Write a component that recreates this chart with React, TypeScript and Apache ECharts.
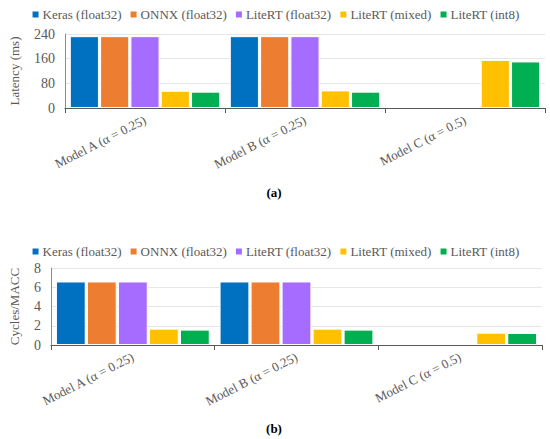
import React, { useEffect, useRef } from "react";
import * as echarts from "echarts";

const categories = ["Model A (α = 0.25)", "Model B (α = 0.25)", "Model C (α = 0.5)"];
const seriesNames = ["Keras (float32)", "ONNX (float32)", "LiteRT (float32)", "LiteRT (mixed)", "LiteRT (int8)"];
const colors = ["#0070C0", "#ED7D31", "#A66BFF", "#FFC000", "#00B050"];

const latency: (number | null)[][] = [
  [233, 233, null],
  [233, 233, null],
  [233, 233, null],
  [56, 57, 156],
  [53, 53, 151],
];
const cycles: (number | null)[][] = [
  [6.6, 6.6, null],
  [6.6, 6.6, null],
  [6.6, 6.6, null],
  [1.7, 1.7, 1.28],
  [1.6, 1.6, 1.25],
];

const FONT = "Liberation Serif";
const TXT = "#595959";

export default function App() {
  const ref = useRef<HTMLDivElement>(null);
  useEffect(() => {
    document.body.style.margin = "0";
    const chart = echarts.init(ref.current!, null, { renderer: "svg" });
    const legendBase = {
      data: seriesNames,
      left: "center",
      itemWidth: 8,
      itemHeight: 8,
      itemGap: 7,
      icon: "rect",
      textStyle: { fontFamily: FONT, fontSize: 13, color: TXT, padding: [0, 0, 0, -2] },
    };
    const xBase = (gi: number) => ({
      type: "category",
      gridIndex: gi,
      data: categories,
      axisLine: { lineStyle: { color: "#595959" } },
      axisTick: { show: true, length: 5, lineStyle: { color: "#595959" } },
      axisLabel: { rotate: 27, margin: 11, fontFamily: FONT, fontSize: 13, color: TXT },
    });
    const yBase = (gi: number, max: number, interval: number, name: string, gap: number) => ({
      type: "value",
      gridIndex: gi,
      min: 0,
      max,
      interval,
      name,
      nameLocation: "middle",
      nameGap: gap,
      nameTextStyle: { fontFamily: FONT, fontSize: 13, color: TXT },
      axisLine: { show: true, lineStyle: { color: "#8c8c8c" } },
      axisTick: { show: false },
      splitLine: { lineStyle: { color: "#e6e6e6" } },
      axisLabel: { fontFamily: FONT, fontSize: 14, color: TXT, margin: 10 },
    });
    const mk = (data: (number | null)[][], gi: number) =>
      data.map((d, i) => ({
        name: seriesNames[i],
        type: "bar",
        xAxisIndex: gi,
        yAxisIndex: gi,
        data: d,
        barGap: "4%",
        barCategoryGap: "6%",
        itemStyle: { color: colors[i], borderColor: "#fff", borderWidth: 1 },
      }));
    chart.setOption({
      animation: false,
      color: colors,
      legend: [
        { ...legendBase, top: 3 },
        { ...legendBase, top: 240 },
      ],
      grid: [
        { left: 58, right: 5, top: 34, bottom: 331 },
        { left: 41, right: 8, top: 268, bottom: 94 },
      ],
      xAxis: [xBase(0), xBase(1)],
      yAxis: [
        yBase(0, 240, 80, "Latency (ms)", 44),
        yBase(1, 8, 2, "Cycles/MACC", 30),
      ],
      series: [...mk(latency, 0), ...mk(cycles, 1)],
      graphic: [
        {
          type: "text",
          x: 274,
          y: 192,
          style: { text: "(a)", font: `bold 13px ${FONT}`, fill: "#000", align: "center", verticalAlign: "middle" },
        },
        {
          type: "text",
          x: 274,
          y: 428,
          style: { text: "(b)", font: `bold 13px ${FONT}`, fill: "#000", align: "center", verticalAlign: "middle" },
        },
      ],
    });
    return () => chart.dispose();
  }, []);
  return <div ref={ref} style={{ width: 550, height: 439 }} />;
}
